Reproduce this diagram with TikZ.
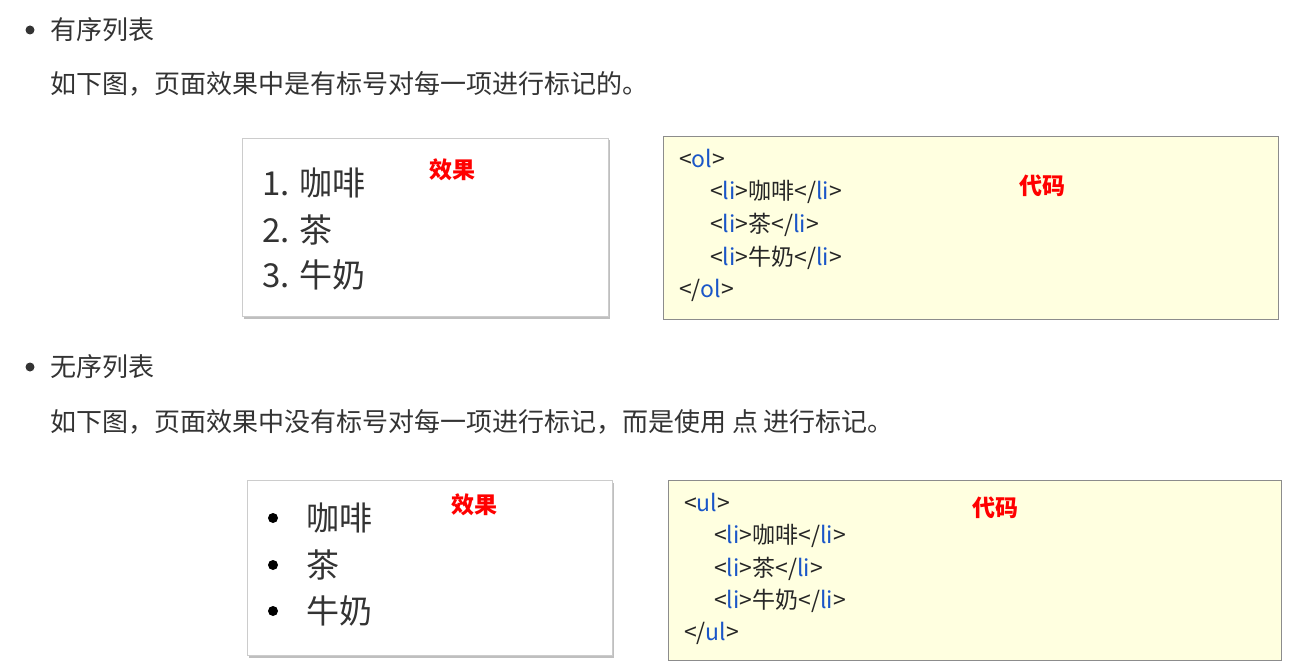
\documentclass[tikz,border=0pt]{standalone}
\usepackage{fontspec}
\setmainfont{Noto Sans CJK SC}
\usetikzlibrary{shadows}
\definecolor{txt}{HTML}{333333}
\definecolor{tag}{HTML}{1A56C8}
\definecolor{codebg}{HTML}{FFFFE0}
\tikzset{
 txtn/.style={anchor=west,inner sep=0pt,text=txt,font=\fontsize{26}{26}\selectfont},
 item/.style={anchor=west,inner sep=0pt,text=black!80,font=\fontsize{33}{33}\selectfont},
 code/.style={anchor=west,inner sep=0pt,text=black!85,font=\fontsize{23}{23}\selectfont},
 red/.style={anchor=center,inner sep=0pt,text=red,font=\fontsize{23}{23}\selectfont\bfseries},
 effbox/.style={draw=black!20,fill=white,drop shadow={shadow xshift=1.5pt,shadow yshift=-2.5pt,opacity=0.5}},
 codebox/.style={draw=black!45,fill=codebg},
 dot/.style={circle,fill=txt,inner sep=0pt,minimum size=9pt}
}
\newcommand{\tg}[1]{\textcolor{tag}{#1}}
\begin{document}
\begin{tikzpicture}[x=1pt,y=-1pt]
\useasboundingbox (0,0) rectangle (1308,668);
\node[dot] (b1) at (30,30) {};
\node[txtn] (t1) at (50,30) {有序列表};
\node[txtn] (d1) at (50,84) {如下图，页面效果中是有标号对每一项进行标记的。};
\draw[effbox] (242,138) rectangle (608,316);
\node[item] (o1) at (262,183) {1. 咖啡};
\node[item] (o2) at (262,230) {2. 茶};
\node[item] (o3) at (262,275) {3. 牛奶};
\node[red] (e1) at (452,170) {效果};
\draw[codebox] (663,136) rectangle (1278,319);
\node[code] (c1) at (679,158) {<\tg{ol}>};
\node[code] (c2) at (710,192) {<\tg{li}>咖啡</\tg{li}>};
\node[code] (c3) at (710,225) {<\tg{li}>茶</\tg{li}>};
\node[code] (c4) at (710,258) {<\tg{li}>牛奶</\tg{li}>};
\node[code] (c5) at (679,290) {</\tg{ol}>};
\node[red] (k1) at (1042,186) {代码};
\node[dot] (b2) at (30,367) {};
\node[txtn] (t2) at (50,367) {无序列表};
\node[txtn] (d2) at (50,422) {如下图，页面效果中没有标号对每一项进行标记，而是使用 点 进行标记。};
\draw[effbox] (247,480) rectangle (612,655);
\foreach \y/\s [count=\i] in {518/咖啡,565/茶,611/牛奶}{
 \node[circle,fill=black,inner sep=0pt,minimum size=10pt] (u\i) at (273,\y) {};
 \node[item] (ut\i) at (306,\y) {\s};
}
\node[red] (e2) at (474,505) {效果};
\draw[codebox] (668,480) rectangle (1281,660);
\node[code] (d1c) at (684,502) {<\tg{ul}>};
\node[code] (d2c) at (714,536) {<\tg{li}>咖啡</\tg{li}>};
\node[code] (d3c) at (714,569) {<\tg{li}>茶</\tg{li}>};
\node[code] (d4c) at (714,601) {<\tg{li}>牛奶</\tg{li}>};
\node[code] (d5c) at (684,633) {</\tg{ul}>};
\node[red] (k2) at (995,508) {代码};
\end{tikzpicture}
\end{document}
